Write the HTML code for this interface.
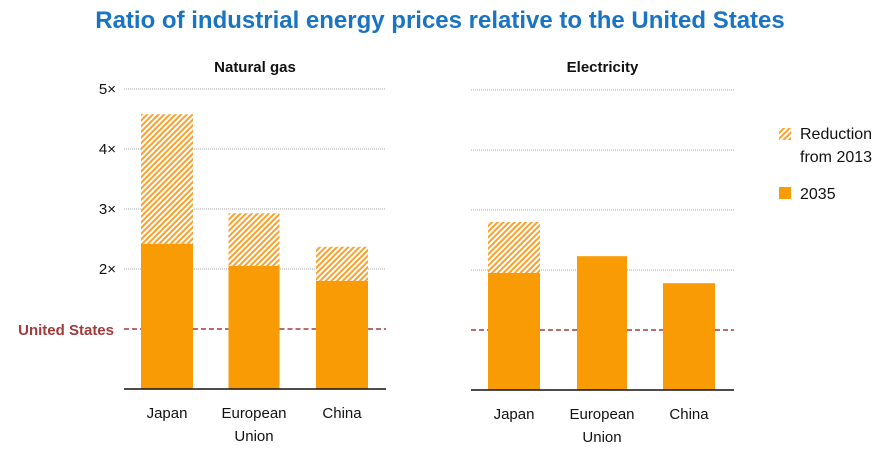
<!DOCTYPE html>
<html><head><meta charset="utf-8"><style>
body{margin:0;background:#fff;font-family:"Liberation Sans",sans-serif}
svg text{font-family:"Liberation Sans",sans-serif}
</style></head><body>
<svg width="887" height="453" xmlns="http://www.w3.org/2000/svg">
<defs><pattern id="hatch" patternUnits="userSpaceOnUse" width="4" height="4" patternTransform="rotate(45)">
<rect width="4" height="4" fill="#fff"/><rect width="2" height="4" fill="#f9a12e"/></pattern></defs>
<text x="440" y="28" text-anchor="middle" font-size="24" font-weight="bold" fill="#1a74c4">Ratio of industrial energy prices relative to the United States</text>
<g id="panels"></g>
<g>
<rect x="779" y="128" width="12" height="12" fill="url(#hatch)"/>
<text x="800" y="139" font-size="16" fill="#111">Reduction</text>
<text x="800" y="162" font-size="16" fill="#111">from 2013</text>
<rect x="779" y="187" width="12" height="12" fill="#f99b05"/>
<text x="800" y="199" font-size="16" fill="#111">2035</text>
</g>
</svg>
<script>
const categories=[["Japan"],["European","Union"],["China"]];
const gas2035=[2.42,2.05,1.8];
const gas2013=[4.58,2.93,2.37];
const elec2035=[1.95,2.23,1.78];
const elec2013=[2.8,2.23,1.78];
const yTicks=[2,3,4,5];
const tickLabels=["2×","3×","4×","5×"];
const panelTitles=["Natural gas","Electricity"];
const NS="http://www.w3.org/2000/svg";
const g=document.getElementById('panels');
function mk(t,a,txt){const e=document.createElementNS(NS,t);for(const k in a)e.setAttribute(k,a[k]);if(txt!=null)e.textContent=txt;g.appendChild(e);return e;}
const panels=[{x0:124,x1:386,base:389,vals:gas2035,tops:gas2013,centers:[167,254,342],bw:[52,51,52],axis:true},
{x0:471,x1:734,base:390,vals:elec2035,tops:elec2013,centers:[514,602,689],bw:[52,50,52],axis:false}];
panels.forEach((p,pi)=>{
 const y=v=>p.base-v*60;
 let e=mk('text',{x:(p.x0+p.x1)/2,y:72,'text-anchor':'middle','font-size':15,'font-weight':'bold',fill:'#111'},panelTitles[pi]);
 
 
 yTicks.forEach((t,i)=>{
  e=mk('line',{x1:p.x0,x2:p.x1,y1:y(t),y2:y(t),stroke:'#aaa','stroke-dasharray':'1,1','stroke-width':1});
  
  
  if(p.axis){e=mk('text',{x:116,y:y(t)+5,'text-anchor':'end','font-size':15,fill:'#111'},tickLabels[i]);
   
   }
 });
 p.vals.forEach((v,i)=>{
  const c=p.centers[i],w=p.bw[i];
  if(p.tops[i]>v){e=mk('rect',{x:c-w/2,y:y(p.tops[i]),width:w,height:y(v)-y(p.tops[i]),fill:'url(#hatch)'});
   
   }
  e=mk('rect',{x:c-w/2,y:y(v),width:w,height:p.base-y(v),fill:'#f99b05'});
  
  
  categories[i].forEach((s,j)=>{e=mk('text',{x:c,y:p.base+29+j*23,'text-anchor':'middle','font-size':15,fill:'#111'},s);
   
   });
 });
 const segs=[];let last=p.x0;
 p.vals.forEach((v,i)=>{const c=p.centers[i],w=p.bw[i];segs.push([last,c-w/2]);last=c+w/2;});segs.push([last,p.x1]);
 segs.forEach(s=>{e=mk('line',{x1:s[0],x2:s[1],y1:y(1),y2:y(1),stroke:'#a33a3a','stroke-width':1.6,'stroke-dasharray':'5,3'});
  
  });
 e=mk('line',{x1:p.x0,x2:p.x1,y1:p.base,y2:p.base,stroke:'#111','stroke-width':1.5});
 
 
});
let us=mk('text',{x:114,y:335,'text-anchor':'end','font-size':15,'font-weight':'bold',fill:'#a33a3a'},'United States');


</script>
</body></html>
